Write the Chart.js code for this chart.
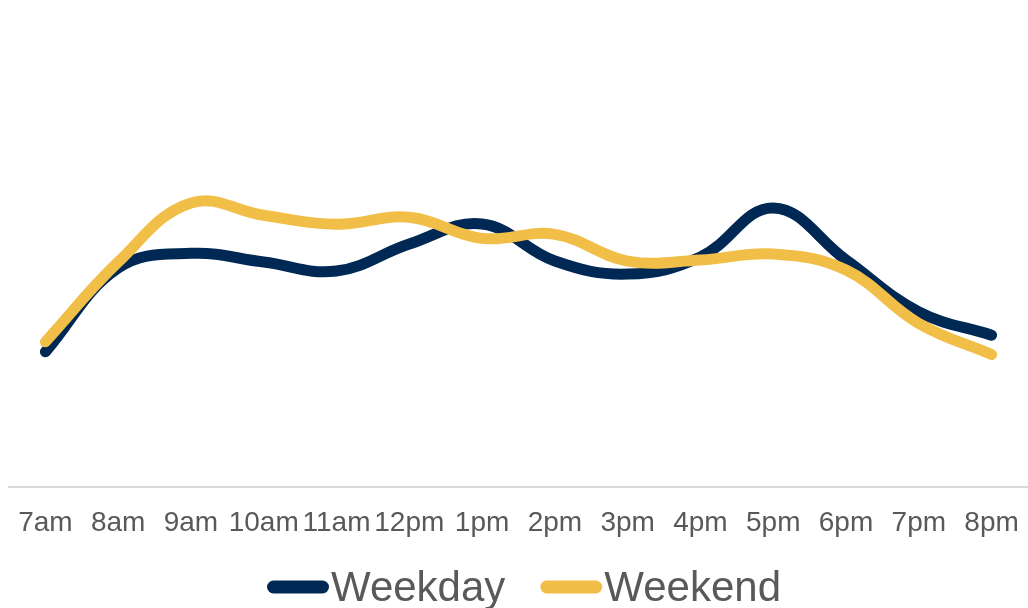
<!DOCTYPE html>
<html>
<head>
<meta charset="utf-8">
<title>Weekday vs Weekend by hour</title>
<script src="https://cdn.jsdelivr.net/npm/chart.js@4/dist/chart.umd.min.js"></script>
<style>
  html, body { margin: 0; padding: 0; background: #fff; overflow: hidden; }
  canvas { display: block; }
</style>
</head>
<body>
<canvas id="hourChart" width="1028" height="608"></canvas>
<script>
// hourly share of traffic (%)
const hours = ['7am', '8am', '9am', '10am', '11am', '12pm', '1pm', '2pm', '3pm', '4pm', '5pm', '6pm', '7pm', '8pm'];
const weekday = [4.06, 6.57, 7.01, 6.75, 6.48, 7.29, 7.89, 6.78, 6.39, 6.90, 8.37, 6.81, 5.26, 4.56];
const weekend = [4.36, 6.75, 8.52, 8.15, 7.88, 8.09, 7.46, 7.58, 6.78, 6.81, 6.99, 6.51, 4.91, 3.98];

const navy = '#002855';
const gold = '#F1BE48';
const textGray = '#595959';

// legend drawn under the axis: short thick stroke, then the series name
const bottomLegend = {
    id: 'bottomLegend',
    afterDraw(chart) {
        const ctx = chart.ctx;
        const lineLen = 62, gap = 2, itemGap = 35;
        ctx.save();
        ctx.font = '42px "Liberation Sans", Arial, sans-serif';
        const items = chart.data.datasets.map(ds => ({
            label: ds.label,
            color: ds.borderColor,
            w: ctx.measureText(ds.label).width
        }));
        let total = 0;
        items.forEach((it, i) => { total += lineLen + gap + it.w + (i ? itemGap : 0); });
        let x = 524 - total / 2;
        const y = 587;
        items.forEach(it => {
            ctx.strokeStyle = it.color;
            ctx.lineWidth = 13;
            ctx.lineCap = 'round';
            ctx.beginPath();
            ctx.moveTo(x + 6.5, y);
            ctx.lineTo(x + lineLen - 6.5, y);
            ctx.stroke();
            ctx.fillStyle = textGray;
            ctx.textBaseline = 'alphabetic';
            ctx.fillText(it.label, x + lineLen + gap, 601);
            x += lineLen + gap + it.w + itemGap;
        });
        ctx.restore();
    }
};

const ctx = document.getElementById('hourChart').getContext('2d');
new Chart(ctx, {
    type: 'line',
    data: {
        labels: hours,
        datasets: [{
            label: 'Weekday',
            data: weekday,
            borderColor: navy,
            backgroundColor: navy,
            borderWidth: 11,
            borderCapStyle: 'round',
            borderJoinStyle: 'round',
            tension: 0.4,
            pointRadius: 0,
            order: 1
        }, {
            label: 'Weekend',
            data: weekend,
            borderColor: gold,
            backgroundColor: gold,
            borderWidth: 11,
            borderCapStyle: 'round',
            borderJoinStyle: 'round',
            tension: 0.4,
            pointRadius: 0,
            order: 0
        }]
    },
    options: {
        responsive: false,
        animation: false,
        layout: {
            padding: { left: 9, right: 0, top: 20, bottom: 63 }
        },
        plugins: {
            legend: { display: false },
            tooltip: { enabled: false }
        },
        scales: {
            x: {
                offset: true,
                // grid hidden; tick length only pushes the labels down
                grid: { display: false, drawTicks: true, tickLength: 14 },
                border: { display: true, color: '#d9d9d9', width: 2 },
                ticks: {
                    color: textGray,
                    font: { family: '"Liberation Sans", Arial, sans-serif', size: 28 },
                    padding: 5,
                    autoSkip: false,
                    maxRotation: 0,
                    minRotation: 0
                }
            },
            y: {
                display: false,
                min: 0,
                max: 14
            }
        }
    },
    plugins: [bottomLegend]
});
</script>
</body>
</html>
